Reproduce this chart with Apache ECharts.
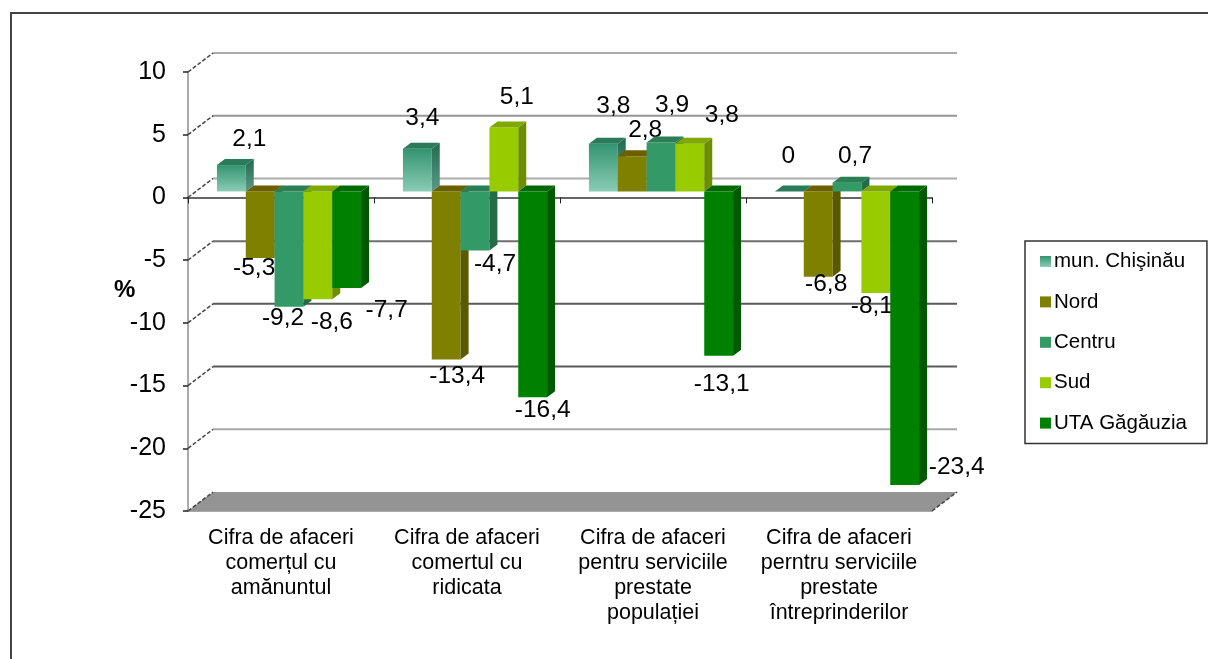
<!DOCTYPE html>
<html><head><meta charset="utf-8">
<style>html,body{margin:0;padding:0;background:#fff}#c{width:1208px;height:659px}</style>
<script src="https://cdn.jsdelivr.net/npm/echarts@6/dist/echarts.min.js"></script></head>
<body><div id="c"></div>
<script>
const categories = [
  'Cifra de afaceri\ncomerțul cu\namănuntul',
  'Cifra de afaceri\ncomertul cu\nridicata',
  'Cifra de afaceri\npentru serviciile\nprestate\npopulației',
  'Cifra de afaceri\nperntru serviciile\nprestate\nîntreprinderilor'
];
const seriesNames = ['mun. Chişinău', 'Nord', 'Centru', 'Sud', 'UTA Găgăuzia'];
const chisinau = [2.1, 3.4, 3.8, 0];
const nord = [-5.3, -13.4, 2.8, -6.8];
const centru = [-9.2, -4.7, 3.9, 0.7];
const sud = [-8.6, 5.1, 3.8, -8.1];
const uta = [-7.7, -16.4, -13.1, -23.4];
const yTicks = [10, 5, 0, -5, -10, -15, -20, -25];

// styles and layout (kept apart from the values)
const FONT = '"Liberation Sans", Arial, sans-serif';
const gridTone = {'10':'#aaaaaa','5':'#969696','0':'#ababab','-5':'#6e6e6e','-10':'#5a5a5a','-15':'#5a5a5a','-20':'#a8a8a8','-25':'#949494'};
const faces = [
  {front:{type:'linear',x:0,y:0,x2:0,y2:1,colorStops:[{offset:0,color:'#339470'},{offset:1,color:'#8accb6'}]},
   side:{type:'linear',x:0,y:0,x2:0,y2:1,colorStops:[{offset:0,color:'#24694f'},{offset:1,color:'#5a9a86'}]}, top:'#2a7a5c'},
  {front:'#808000', side:'#595900', top:'#6b5f00'},
  {front:'#339966', side:'#246b47', top:'#2a7f55'},
  {front:'#99cc00', side:'#6b8f00', top:'#7fa800'},
  {front:'#008000', side:'#005900', top:'#006a00'}
];
const legendColors = [
  {type:'linear',x:0,y:0,x2:0,y2:1,colorStops:[{offset:0,color:'#339470'},{offset:1,color:'#8accb6'}]},
  '#808000','#339966','#99cc00','#008000'
];
const labelShift = [
  [[18,-26],[5,-31],[10,-38],[-1,-35]],
  [[-6,10],[11,17],[13,-26],[8,8]],
  [[-6,11],[20,14],[11,-37],[8,-26]],
  [[14,23],[13,-30],[32,-29],[-4,13]],
  [[40,22],[10,13],[3,29],[52,-18]]
];
const WALL_X = 25, WALL_Y = -19, PLANE_X = 8, PLANE_Y = -6, DEPTH_X = 8, DEPTH_Y = -6, BAR_SHARE = 0.155;

function renderWall(params, api) {
  const v = api.value(1);
  const cs = params.coordSys;
  const y = api.coord([0, v])[1];
  const x0 = cs.x, x1 = cs.x + cs.width;
  const tone = gridTone[String(v)];
  const children = [];
  if (v === -25) {
    children.push({type:'polygon', shape:{points:[[x0,y],[x1,y],[x1+WALL_X,y+WALL_Y],[x0+WALL_X,y+WALL_Y]]}, style:{fill:tone}});
    children.push({type:'line', shape:{x1:x1,y1:y,x2:x1+WALL_X,y2:y+WALL_Y}, style:{stroke:'#444',lineWidth:1.5,lineDash:[4,2]}});
  } else {
    children.push({type:'line', shape:{x1:x0+WALL_X,y1:y+WALL_Y,x2:x1+WALL_X,y2:y+WALL_Y}, style:{stroke:tone,lineWidth:2}});
  }
  children.push({type:'line', shape:{x1:x0,y1:y,x2:x0+WALL_X,y2:y+WALL_Y}, style:{stroke:'#444',lineWidth:1.5,lineDash:[4,2]}});
  return {type:'group', children};
}

function makeBar(s) {
  return function (params, api) {
    const i = api.value(0), v = api.value(1);
    const end = api.coord([i, v]);
    const base = api.coord([i, 0]);
    const w = api.size([1, 0])[0] * BAR_SHARE;
    const xl = end[0] + PLANE_X + (s - 2.5) * w;
    const xr = xl + w;
    const yTop = Math.min(end[1], base[1]) + PLANE_Y;
    const yBot = Math.max(end[1], base[1]) + PLANE_Y;
    const f = faces[s];
    const children = [];
    if (yBot - yTop > 0.5) {
      children.push({type:'rect', shape:{x:xl,y:yTop,width:w,height:yBot-yTop}, style:{fill:f.front}});
    }
    children.push({type:'polygon', shape:{points:[[xr,yTop],[xr+DEPTH_X,yTop+DEPTH_Y],[xr+DEPTH_X,yBot+DEPTH_Y],[xr,yBot]]}, style:{fill:f.side}});
    children.push({type:'polygon', shape:{points:[[xl,yTop],[xl+DEPTH_X,yTop+DEPTH_Y],[xr+DEPTH_X,yTop+DEPTH_Y],[xr,yTop]]}, style:{fill:f.top}});
    const sh = labelShift[s][i];
    children.push({type:'text', z2:5, style:{
      x:xl+w/2+sh[0], y:end[1]+PLANE_Y+sh[1], text:String(v).replace('.',','),
      fill:'#000', font:'24.5px '+FONT, textAlign:'center', textVerticalAlign:'middle'}});
    return {type:'group', children};
  };
}

const chart = echarts.init(document.getElementById('c'), null, {renderer:'canvas'});
const values = [chisinau, nord, centru, sud, uta];
chart.setOption({
  animation:false,
  backgroundColor:'#fff',
  textStyle:{fontFamily:FONT},
  grid:{left:188, right:276, top:72, bottom:148, containLabel:false},
  legend:{
    data:seriesNames, orient:'vertical', left:1025, top:241, icon:'rect',
    padding:[10,20,10,15], itemWidth:11, itemHeight:11, itemGap:19.4,
    borderColor:'#333', borderWidth:1.5, backgroundColor:'#fff',
    selectedMode:false,
    textStyle:{fontFamily:FONT, fontSize:20.5, color:'#000', padding:[0,0,0,-2]}
  },
  xAxis:[
    {type:'category', data:categories, position:'bottom', boundaryGap:true,
     axisLine:{onZero:false, show:true, lineStyle:{color:'#8a8a8a',width:1.5}},
     axisTick:{show:false},
     axisLabel:{interval:0, margin:15, color:'#000', fontFamily:FONT, fontSize:21.5, lineHeight:25, align:'center', verticalAlign:'top'}},
    {type:'category', data:categories, position:'bottom', boundaryGap:true,
     axisLine:{onZero:true, show:true, lineStyle:{color:'#666',width:2}},
     axisTick:{show:true, length:6, alignWithLabel:false, lineStyle:{color:'#222',width:1}},
     axisLabel:{show:false}}
  ],
  yAxis:{type:'value', min:-25, max:10, interval:5,
    splitLine:{show:false},
    axisLine:{show:true, lineStyle:{color:'#aaa',width:2}},
    axisTick:{show:true, length:5, lineStyle:{color:'#222',width:1.5}},
    axisLabel:{margin:22, color:'#000', fontFamily:FONT, fontSize:25, padding:[4,0,0,0]}},
  graphic:[
    {type:'rect', silent:true, z:-1, shape:{x:11,y:13,width:1400,height:900}, style:{fill:'none',stroke:'#444',lineWidth:2}},
    {type:'text', left:114, top:278, silent:true, style:{text:'%', fill:'#000', font:'bold 24px '+FONT}}
  ],
  series:[
    {type:'custom', name:'wall', silent:true, z:1, xAxisIndex:0, data:yTicks.map(t=>[0,t]), encode:{x:0,y:1}, renderItem:renderWall},
    ...seriesNames.map((n,s)=>({
      type:'custom', name:n, silent:true, z:2+s, xAxisIndex:0,
      itemStyle:{color:legendColors[s]},
      data:values[s].map((v,i)=>[i,v]), encode:{x:0,y:1}, renderItem:makeBar(s)
    }))
  ]
});
</script></body></html>
